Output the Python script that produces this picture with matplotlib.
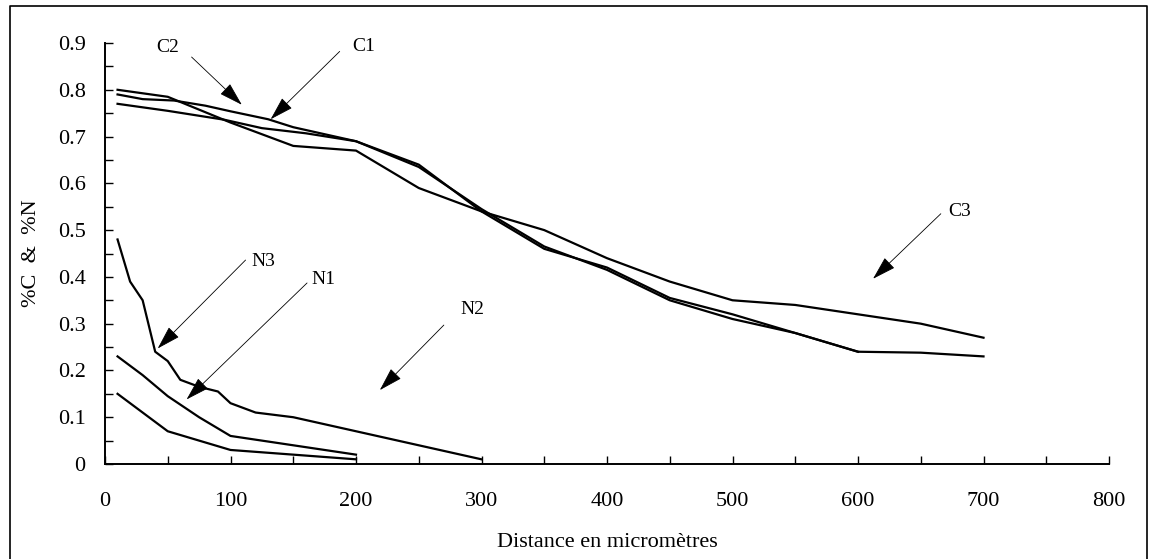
import matplotlib
matplotlib.use('Agg')
import matplotlib.pyplot as plt
from matplotlib.ticker import MultipleLocator
from matplotlib.lines import Line2D

plt.rcParams['font.family'] = ['Liberation Serif', 'DejaVu Serif']

# carbon profiles (distance in micrometres, %)
c1_x = [10, 50, 100, 150, 200, 250, 300, 350, 400, 450, 500, 550, 600, 650, 700]
c1_y = [0.80, 0.785, 0.73, 0.68, 0.67, 0.59, 0.54, 0.50, 0.44, 0.39, 0.35, 0.34, 0.32, 0.30, 0.27]
c2_x = [10, 30, 55, 80, 100, 130, 150, 200, 250, 300, 350, 375, 400, 450, 500, 550, 600]
c2_y = [0.79, 0.78, 0.777, 0.766, 0.754, 0.737, 0.72, 0.69, 0.64, 0.54, 0.46, 0.44, 0.42, 0.355, 0.32, 0.28, 0.24]
c3_x = [10, 50, 95, 125, 160, 200, 250, 300, 350, 400, 450, 500, 550, 600, 650, 700]
c3_y = [0.77, 0.755, 0.736, 0.718, 0.707, 0.69, 0.635, 0.545, 0.465, 0.415, 0.35, 0.31, 0.28, 0.24, 0.238, 0.23]

# nitrogen profiles
n1_x = [10, 30, 50, 75, 100, 125, 150, 200]
n1_y = [0.23, 0.19, 0.145, 0.10, 0.06, 0.05, 0.04, 0.02]
n2_x = [10, 50, 75, 100, 125, 150, 200]
n2_y = [0.15, 0.07, 0.05, 0.03, 0.025, 0.02, 0.01]
n3_x = [10, 20, 30, 40, 50, 60, 75, 90, 100, 120, 150, 200, 250, 300]
n3_y = [0.48, 0.39, 0.35, 0.24, 0.22, 0.18, 0.165, 0.155, 0.13, 0.11, 0.10, 0.07, 0.04, 0.01]

# labels: (text, text position, arrow tail, arrow tip)
labels = [
    ('C2', (50, 0.89), (69, 0.87), (109, 0.768)),
    ('C1', (206, 0.893), (187, 0.882), (132, 0.737)),
    ('C3', (681, 0.54), (666, 0.535), (612, 0.396)),
    ('N3', (126, 0.433), (112, 0.436), (42, 0.247)),
    ('N1', (174, 0.394), (161, 0.387), (65, 0.138)),
    ('N2', (293, 0.33), (270, 0.297), (219, 0.158)),
]

fig = plt.figure(figsize=(11.5, 5.59), dpi=100)
ax = fig.add_axes([105/1150, 1 - 464/559, (1109-105)/1150, (464-43)/559])

for xs, ys in [(c1_x, c1_y), (c2_x, c2_y), (c3_x, c3_y), (n1_x, n1_y), (n2_x, n2_y), (n3_x, n3_y)]:
    ax.plot(xs, ys, color='black', lw=1.6, solid_joinstyle='round')

for txt, tpos, tail, tip in labels:
    ax.text(tpos[0], tpos[1], txt, fontsize=14, ha='center', va='center')
    ax.annotate('', xy=tip, xytext=tail,
                arrowprops=dict(arrowstyle='-|>,head_length=1.5,head_width=0.45',
                                color='black', lw=0.6, mutation_scale=10,
                                shrinkA=0, shrinkB=0))

ax.set_xlim(0, 800)
ax.set_ylim(0, 0.9)
ax.xaxis.set_major_locator(MultipleLocator(100))
ax.xaxis.set_minor_locator(MultipleLocator(50))
ax.yaxis.set_minor_locator(MultipleLocator(0.05))
ax.set_yticks([0, 0.1, 0.2, 0.3, 0.4, 0.5, 0.6, 0.7, 0.8, 0.9])
ax.set_yticklabels(['0', '0.1', '0.2', '0.3', '0.4', '0.5', '0.6', '0.7', '0.8', '0.9'])
ax.tick_params(which='both', direction='in', length=6, width=1, labelsize=16)
ax.tick_params(axis='x', which='major', pad=20)
ax.tick_params(axis='y', which='major', pad=14)
for s in ['top', 'right']:
    ax.spines[s].set_visible(False)
for s in ['left', 'bottom']:
    ax.spines[s].set_linewidth(1.4)

ax.set_xlabel('Distance en micromètres', fontsize=16, labelpad=16)
ax.set_ylabel('%C  &  %N', fontsize=16, labelpad=12)

# frame around the whole chart
fx = [10/1150, 10/1150, 1147/1150, 1147/1150]
fy = [0, 1 - 6/559, 1 - 6/559, 0]
fig.add_artist(Line2D(fx, fy, color='black', lw=1.2, transform=fig.transFigure))

fig.savefig('out.png', dpi=100)
